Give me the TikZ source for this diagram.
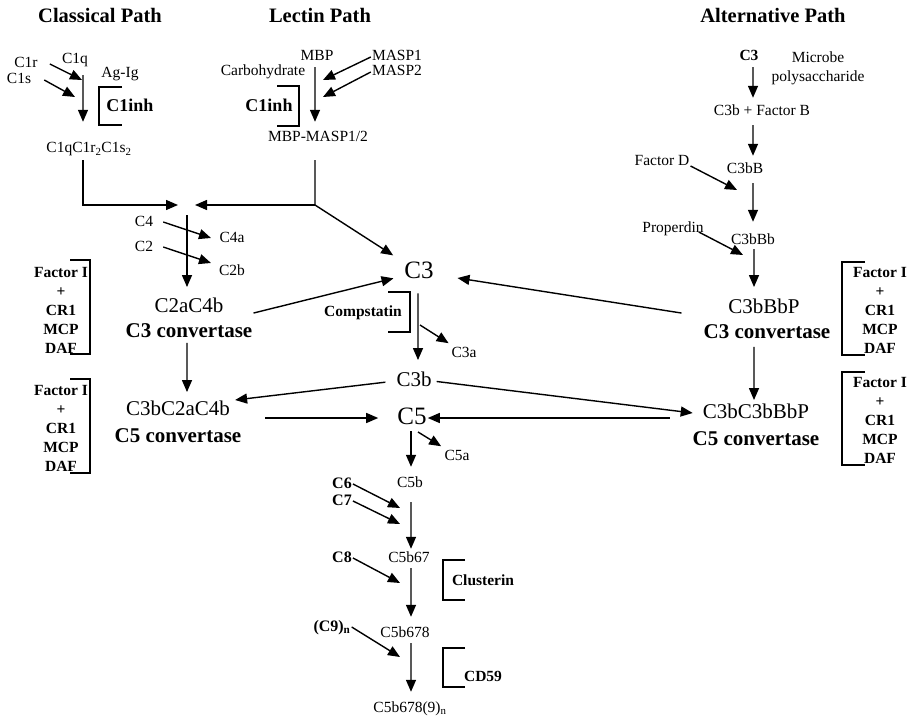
\documentclass[tikz,border=0pt]{standalone}
\usepackage{fontspec}
\setmainfont{Liberation Serif}
\usepackage{tikz}
\usetikzlibrary{arrows.meta}

\begin{document}
\begin{tikzpicture}[
    x=1bp, y=-1bp,
    lbl/.style={font=\fontsize{15.5bp}{18bp}\selectfont, inner sep=1bp,
                text height=11bp, text depth=3bp},
    blbl/.style={lbl, font=\fontsize{15.5bp}{18bp}\selectfont\bfseries},
    tc/.style={lbl, font=\fontsize{16bp}{18bp}\selectfont\bfseries},
    inh/.style={lbl, font=\fontsize{18bp}{20bp}\selectfont\bfseries},
    mid/.style={font=\fontsize{21bp}{24bp}\selectfont, inner sep=1bp,
                text height=15bp, text depth=4.5bp},
    conv/.style={mid, font=\fontsize{21bp}{24bp}\selectfont\bfseries},
    big/.style={font=\fontsize{25bp}{28bp}\selectfont, inner sep=1bp,
                text height=17.5bp, text depth=5bp},
    head/.style={font=\fontsize{20.5bp}{24bp}\selectfont\bfseries, inner sep=1bp},
    stack/.style={font=\fontsize{15.5bp}{19bp}\selectfont\bfseries, align=center,
                  inner sep=0pt},
    arr/.style={-{Triangle[length=12bp,width=10bp]}, line width=1.4bp},
    ln/.style={line width=1.4bp},
    brk/.style={line width=2.6bp},
]
    \useasboundingbox (0,0) rectangle (915,719);

    \node[head] (tclass) at (100,15) {Classical Path};
    \node[head] (tlect) at (320,15) {Lectin Path};
    \node[head] (talt) at (773,15) {Alternative Path};

    % classical path
    \node[lbl] (c1q) at (75,60) {C1q};
    \node[lbl] (c1r) at (26,64) {C1r};
    \node[lbl] (c1s) at (19,80) {C1s};
    \node[lbl] (agig) at (120,74) {Ag-Ig};
    \node[inh] (c1inhA) at (130,108) {C1inh};
    \node[lbl] (c1cplx) at (89,149) {C1qC1r\textsubscript{2}C1s\textsubscript{2}};
    \coordinate (jc) at (187,205);
    \coordinate (ta1) at (82,80);
    \coordinate (ta2) at (75,97);

    \draw[arr] ([xshift=11bp]c1r.east) -- (ta1);
    \draw[arr] ([xshift=12bp]c1s.east) -- (ta2);
    \draw[arr, shorten <=7bp, shorten >=19bp] ([xshift=8bp]c1q.south) -- ([xshift=-6bp]c1cplx.north);
    \draw[brk] (122,87) -| (99,125) -- (122,125);
    \draw[arr, shorten >=9bp] ([xshift=-6bp,yshift=-3bp]c1cplx.south) |- (jc);

    % lectin path
    \node[lbl] (mbp) at (317,57) {MBP};
    \node[lbl] (masp1) at (397,57) {MASP1};
    \node[lbl] (masp2) at (397,72) {MASP2};
    \node[lbl] (carbo) at (263,72) {Carbohydrate};
    \node[inh] (c1inhB) at (269,108) {C1inh};
    \node[lbl] (mbpm) at (318,138) {MBP-MASP1/2};
    \coordinate (tm1) at (323,80);
    \coordinate (tm2) at (323,97);
    \coordinate (lk) at (315,205);

    \draw[arr, shorten <=2bp, shorten >=8bp] ([xshift=-2bp]mbp.south) -- ([xshift=-3bp]mbpm.north);
    \draw[arr] (masp1.west) -- (tm1);
    \draw[arr] (masp2.west) -- (tm2);
    \draw[brk] (277,86) -| (299,126) -- (277,126);
    \draw[ln] ([xshift=-3bp,yshift=-14bp]mbpm.south) -- (lk);
    \draw[arr, shorten >=8bp] (lk) -- (jc);

    % C3 / C5 convertases, classical side
    \node[lbl] (c4) at (144,222) {C4};
    \node[lbl] (c2) at (144,247) {C2};
    \node[lbl] (c4a) at (232,238) {C4a};
    \node[lbl] (c2b) at (232,271) {C2b};
    \node[mid] (c2ac4b) at (189,307) {C2aC4b};
    \node[conv] (conv3L) at (189,332) {C3 convertase};
    \node[mid] (c3bc2a) at (178,410) {C3bC2aC4b};
    \node[conv] (conv5L) at (178,437) {C5 convertase};
    \node[stack] (fiL1) at (61,310) {Factor I\\+\\CR1\\MCP\\DAF};
    \node[stack] (fiL2) at (61,428) {Factor I\\+\\CR1\\MCP\\DAF};
    \coordinate (t4) at (211,238);
    \coordinate (t2) at (211,263);

    \draw[arr, shorten <=10bp, shorten >=9bp] (jc) -- (jc |- c2ac4b.north);
    \draw[arr] ([xshift=9bp]c4.east) -- (t4);
    \draw[arr] ([xshift=9bp]c2.east) -- (t2);
    \draw[arr, shorten >=7bp] ([xshift=-2bp]conv3L.south) -- ([xshift=9bp]c3bc2a.north);
    \draw[brk] (70,260) -| (90,354) -- (70,354);
    \draw[brk] (70,379) -| (90,473) -- (70,473);

    % alternative path
    \node[blbl] (c3alt) at (749,57) {C3};
    \node[font=\fontsize{15.5bp}{19bp}\selectfont, align=center, inner sep=0pt] (microbe) at (818,68) {Microbe\\polysaccharide};
    \node[lbl] (c3bfb) at (762,112) {C3b + Factor B};
    \node[lbl] (c3bB) at (745,170) {C3bB};
    \node[lbl] (factD) at (662,162) {Factor D};
    \node[lbl] (c3bBb) at (753,240) {C3bBb};
    \node[lbl] (prop) at (673,228) {Properdin};
    \node[mid] (c3bbbp) at (764,308) {C3bBbP};
    \node[conv] (conv3R) at (767,333) {C3 convertase};
    \node[mid] (c3bc3b) at (756,413) {C3bC3bBbP};
    \node[conv] (conv5R) at (756,440) {C5 convertase};
    \node[stack] (fiR1) at (880,310) {Factor I\\+\\CR1\\MCP\\DAF};
    \node[stack] (fiR2) at (880,420) {Factor I\\+\\CR1\\MCP\\DAF};
    \coordinate (tD) at (737,190);
    \coordinate (tP) at (743,255);

    \draw[arr, shorten <=2bp, shorten >=6bp] ([xshift=4bp]c3alt.south) -- ([xshift=-9bp]c3bfb.north);
    \draw[arr, shorten <=5bp, shorten >=6bp] ([xshift=-9bp]c3bfb.south) -- ([xshift=8bp]c3bB.north);
    \draw[arr] ([yshift=-4bp]factD.east) -- (tD);
    \draw[arr, shorten <=5bp, shorten >=10bp] ([xshift=8bp]c3bB.south) -- (c3bBb.north);
    \draw[arr] ([xshift=-6bp,yshift=-4bp]prop.east) -- (tP);
    \draw[arr, shorten <=1bp, shorten >=10bp] ([xshift=1bp]c3bBb.south) -- ([xshift=-10bp]c3bbbp.north);
    \draw[arr, shorten <=3bp, shorten >=2bp] ([xshift=-13bp]conv3R.south) -- ([xshift=-2bp]c3bc3b.north);
    \draw[brk] (865,262) -| (842,355) -- (865,355);
    \draw[brk] (865,372) -| (842,465) -- (865,465);

    % common pathway
    \node[big] (c3) at (419,272) {C3};
    \node[blbl] (compst) at (363,312) {Compstatin};
    \node[lbl] (c3a) at (464,353) {C3a};
    \node[mid] (c3b) at (414,381) {C3b};
    \node[big] (c5) at (412,418) {C5};
    \node[lbl] (c5a) at (457,456) {C5a};
    \coordinate (c3v) at (420,325);
    \coordinate (c5v) at (418,432);

    \draw[arr, shorten >=12bp] (lk) -- (c3);
    \draw[arr, shorten >=10bp] ([yshift=8bp]conv3L.north east) -- (c3);
    \draw[arr, shorten >=23bp] ([xshift=-21bp,yshift=9bp]conv3R.north west) -- (c3);
    \draw[brk] (388,292) -| (410,332) -- (388,332);
    \draw[arr, shorten <=9bp, shorten >=10bp] ([xshift=-1bp]c3.south) -- ([xshift=4bp]c3b.north);
    \draw[arr, shorten >=3bp] (c3v) -- (c3a);
    \draw[arr, shorten <=10bp] (c3b.west) -- ([xshift=4bp,yshift=10bp]c3bc2a.east);
    \draw[arr, shorten <=4bp] (c3b.east) -- ([xshift=-9bp]c3bc3b.west);
    \draw[arr, shorten <=23bp, shorten >=18bp] (conv5L.east |- c5.west) -- (c5.west);
    \draw[arr, shorten <=32bp] (c3bc3b.west |- c5.east) -- (c5.east);

    % membrane attack complex
    \node[lbl] (c5b) at (410,483) {C5b};
    \node[tc] (c6) at (342,484) {C6};
    \node[tc] (c7) at (342,501) {C7};
    \node[lbl] (c5b67) at (409,558) {C5b67};
    \node[tc] (c8) at (342,558) {C8};
    \node[blbl] (clust) at (483,581) {Clusterin};
    \node[lbl] (c5b678) at (405,633) {C5b678};
    \node[tc] (c9n) at (332,627) {(C9)\textsubscript{n}};
    \node[blbl] (cd59) at (483,677) {CD59};
    \node[lbl] (mac) at (410,708) {C5b678(9)\textsubscript{n}};
    \coordinate (t6) at (400,508);
    \coordinate (t7) at (400,524);
    \coordinate (t8) at (400,583);
    \coordinate (t9) at (400,657);

    \draw[arr, shorten <=1bp, shorten >=8bp] ([xshift=-1bp]c5.south) -- ([xshift=1bp]c5b.north);
    \draw[arr, shorten >=3bp] (c5v) -- (c5a);
    \draw[arr, shorten <=11bp, shorten >=1bp] ([xshift=1bp]c5b.south) -- ([xshift=2bp]c5b67.north);
    \draw[arr, shorten <=2bp, shorten >=8bp] ([xshift=2bp]c5b67.south) -- ([xshift=6bp]c5b678.north);
    \draw[arr, shorten <=2bp, shorten >=8bp] ([xshift=6bp]c5b678.south) -- ([xshift=1bp]mac.north);
    \draw[arr] (c6.east) -- (t6);
    \draw[arr] (c7.east) -- (t7);
    \draw[arr] (c8.east) -- (t8);
    \draw[arr] (c9n.east) -- (t9);
    \draw[brk] (465,560) -| (443,600) -- (465,600);
    \draw[brk] (465,648) -| (443,687) -- (465,687);
\end{tikzpicture}
\end{document}
